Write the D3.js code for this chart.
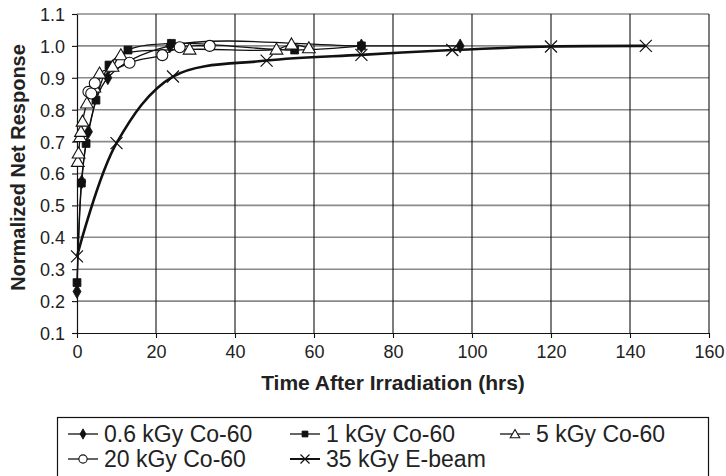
<!DOCTYPE html>
<html>
<head>
<meta charset="utf-8">
<script src="https://cdn.jsdelivr.net/npm/d3@7"></script>
<style>
  html, body { margin: 0; padding: 0; background: #fff; }
  svg { display: block; font-family: Arial, "Liberation Sans", sans-serif; }
</style>
</head>
<body>
<svg id="chart" width="726" height="476"></svg>
<script>
// Hours after irradiation and normalized net response, one pair of arrays per dose
const hours06 = [0, 1.2, 2.9, 7.8, 23.5, 72, 97];
const resp06  = [0.23, 0.574, 0.731, 0.90, 1.0, 1.0, 1.0];

const hours1 = [0, 1.1, 2.3, 4.8, 8.1, 12.9, 23.9, 55.1, 72];
const resp1  = [0.258, 0.57, 0.694, 0.83, 0.94, 0.987, 1.008, 0.987, 1.0];

const hours5 = [0.2, 0.4, 0.8, 1.0, 1.4, 2.5, 4.4, 5.7, 9.0, 11.1, 28.5, 50.5, 54.3, 58.7];
const resp5  = [0.637, 0.663, 0.715, 0.731, 0.763, 0.82, 0.87, 0.914, 0.935, 0.971, 0.989, 0.989, 1.005, 0.993];

const hours20 = [2.9, 3.6, 4.5, 13.3, 21.6, 26.0, 33.6];
const resp20  = [0.856, 0.851, 0.883, 0.947, 0.971, 0.996, 1.0];

const hours35 = [0, 10, 24.3, 48, 72, 95, 120, 144];
const resp35  = [0.34, 0.695, 0.904, 0.954, 0.972, 0.987, 0.998, 1.0];

const seriesNames = ["0.6 kGy Co-60", "1 kGy Co-60", "5 kGy Co-60", "20 kGy Co-60", "35 kGy E-beam"];
const xTicks = [0, 20, 40, 60, 80, 100, 120, 140, 160];
const yTicks = [0.1, 0.2, 0.3, 0.4, 0.5, 0.6, 0.7, 0.8, 0.9, 1.0, 1.1];
const xTitle = "Time After Irradiation (hrs)";
const yTitle = "Normalized Net Response";

const series = [
  { name: seriesNames[0], t: hours06, v: resp06, marker: "diamond", width: 1.3 },
  { name: seriesNames[1], t: hours1,  v: resp1,  marker: "square",  width: 1.3 },
  { name: seriesNames[2], t: hours5,  v: resp5,  marker: "triangle", width: 1.3 },
  { name: seriesNames[3], t: hours20, v: resp20, marker: "circle",  width: 1.3 },
  { name: seriesNames[4], t: hours35, v: resp35, marker: "x",       width: 2.6 }
].map(s => ({ ...s, pts: s.t.map((t, i) => [t, s.v[i]]) }));

const svg = d3.select("#chart");
const x = d3.scaleLinear().domain([0, 160]).range([77, 709]);
const y = d3.scaleLinear().domain([0.1, 1.1]).range([333, 14]);

// Gridlines: grey horizontals, black verticals
svg.append("g").selectAll("line").data(yTicks.slice(1)).join("line")
  .attr("x1", x(0)).attr("x2", x(160))
  .attr("y1", d => y(d)).attr("y2", d => y(d))
  .attr("stroke", "#8a8a8a").attr("stroke-width", 1.6);
svg.append("g").selectAll("line").data(xTicks.slice(1)).join("line")
  .attr("x1", d => x(d)).attr("x2", d => x(d))
  .attr("y1", y(0.1)).attr("y2", y(1.1))
  .attr("stroke", "#111").attr("stroke-width", 1.1);

// Axes
const xAxis = svg.append("g").attr("transform", `translate(0,${y(0.1)})`)
  .call(d3.axisBottom(x).tickValues(xTicks).tickSize(5).tickSizeOuter(0).tickPadding(7).tickFormat(d3.format("d")));
const yAxis = svg.append("g").attr("transform", `translate(${x(0)},0)`)
  .call(d3.axisLeft(y).tickValues(yTicks).tickSize(5).tickSizeOuter(0).tickPadding(7).tickFormat(d3.format(".1f")));
[xAxis, yAxis].forEach(a => {
  a.select(".domain").attr("stroke", "#111").attr("stroke-width", 1.2);
  a.selectAll(".tick line").attr("stroke", "#111").attr("stroke-width", 1.1);
  a.selectAll(".tick text").attr("font-size", 18).attr("fill", "#222")
    .attr("font-family", "Arial, 'Liberation Sans', sans-serif");
});
yAxis.selectAll(".tick text").attr("dy", "0.36em");

// Axis titles
svg.append("text").attr("x", (x(0) + x(160)) / 2).attr("y", 390)
  .attr("text-anchor", "middle").attr("font-weight", "bold").attr("font-size", 21)
  .attr("fill", "#222").text(xTitle);
svg.append("text").attr("transform", `translate(25,${(y(0.1) + y(1.1)) / 2 - 6}) rotate(-90)`)
  .attr("text-anchor", "middle").attr("font-weight", "bold").attr("font-size", 20)
  .attr("fill", "#222").text(yTitle);

// Marker drawing
function drawMarker(sel, kind, scale) {
  const k = scale || 1;
  if (kind === "diamond") {
    sel.append("path").attr("d", d3.symbol(d3.symbolDiamond, 55 * k * k)())
      .attr("fill", "#111").attr("stroke", "#111").attr("stroke-width", 0.8);
  } else if (kind === "square") {
    sel.append("path").attr("d", d3.symbol(d3.symbolSquare, 62 * k * k)())
      .attr("fill", "#111").attr("stroke", "#111").attr("stroke-width", 0.8);
  } else if (kind === "triangle") {
    sel.append("path").attr("d", d3.symbol(d3.symbolTriangle, 70 * k * k)())
      .attr("transform", "translate(0,1)")
      .attr("fill", "#fff").attr("stroke", "#111").attr("stroke-width", 1.1);
  } else if (kind === "circle") {
    sel.append("circle").attr("r", 5.5 * k)
      .attr("fill", "#fff").attr("stroke", "#111").attr("stroke-width", 1.1);
  } else if (kind === "x") {
    const h = 6 * k;
    sel.append("path").attr("d", `M${-h},${-h}L${h},${h}M${-h},${h}L${h},${-h}`)
      .attr("stroke", "#111").attr("stroke-width", 1.2).attr("fill", "none");
  }
}

const line = d3.line().x(d => x(d[0])).y(d => y(d[1])).curve(d3.curveCatmullRom.alpha(0.5));

// Lines first, then markers on top (E-beam drawn first so Co-60 sits above it)
const order = [4, 0, 1, 2, 3];
order.forEach(i => {
  const s = series[i];
  svg.append("path").datum(s.pts).attr("d", line)
    .attr("fill", "none").attr("stroke", "#111").attr("stroke-width", s.width);
});
order.forEach(i => {
  const s = series[i];
  svg.append("g").selectAll("g").data(s.pts).join("g")
    .attr("transform", d => `translate(${x(d[0])},${y(d[1])})`)
    .each(function () { drawMarker(d3.select(this), s.marker, 1); });
});

// Legend
const legend = svg.append("g");
legend.append("rect").attr("x", 57.5).attr("y", 417.5).attr("width", 651).attr("height", 80)
  .attr("fill", "#fff").attr("stroke", "#111").attr("stroke-width", 1.2);
const legendPos = [
  { lx: 68, ty: 442 }, { lx: 290, ty: 442 }, { lx: 500, ty: 442 },
  { lx: 68, ty: 467 }, { lx: 290, ty: 467 }
];
series.forEach((s, i) => {
  const p = legendPos[i];
  const g = legend.append("g").attr("transform", `translate(${p.lx},${p.ty - 8})`);
  g.append("line").attr("x1", 0).attr("x2", 30).attr("y1", 0).attr("y2", 0)
    .attr("stroke", "#111").attr("stroke-width", s.width > 2 ? 2 : 1.3);
  const m = g.append("g").attr("transform", "translate(15,0)");
  drawMarker(m, s.marker, 0.75);
  legend.append("text").attr("x", p.lx + 36).attr("y", p.ty)
    .attr("font-size", 23).attr("fill", "#222").text(s.name);
});
</script>
</body>
</html>
